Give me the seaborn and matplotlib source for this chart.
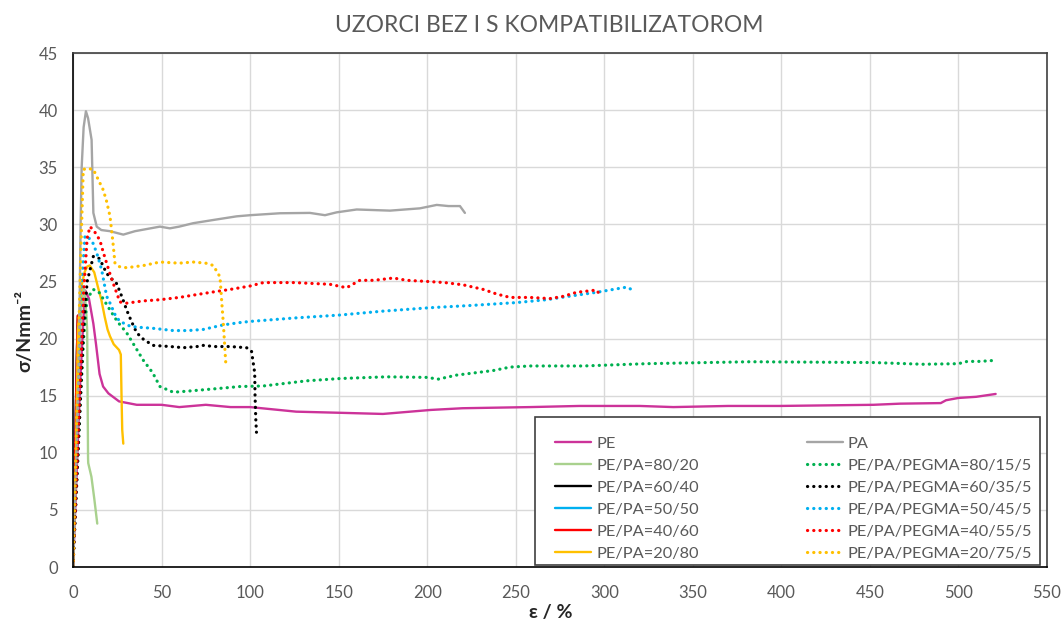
import matplotlib
matplotlib.use("Agg")
import matplotlib.pyplot as plt
from matplotlib.patches import Rectangle
import seaborn as sns
import pandas as pd

# ---------------- data ----------------
title = "UZORCI BEZ I S KOMPATIBILIZATOROM"
x_label = "ε / %"
y_label = "σ/Nmm⁻²"

pe_x = [0, 2, 4, 6, 7, 9, 11.5, 13, 15, 17, 20, 26, 36, 50, 60, 75, 89, 100, 126, 151, 175, 202, 220, 258, 286, 320, 339, 370, 399, 452, 467, 490, 493, 500, 510, 521]
pe_y = [0, 8, 16, 22, 24.2, 23.5, 21.3, 19.5, 16.9, 15.8, 15.2, 14.5, 14.2, 14.2, 14.0, 14.2, 14.0, 14.0, 13.6, 13.5, 13.4, 13.75, 13.9, 14.0, 14.1, 14.1, 14.0, 14.1, 14.1, 14.2, 14.3, 14.35, 14.6, 14.8, 14.9, 15.15]

pa_x = [0, 2, 3.5, 4.3, 4.9, 6, 7.3, 8.5, 10.5, 11.5, 13.4, 16, 20.9, 28.4, 35, 42, 49.1, 54.7, 60, 67.9, 80, 92.4, 100, 116.9, 133.8, 142.3, 148.9, 160.2, 179, 195.9, 205.4, 212, 218.5, 221.3]
pa_y = [0, 10, 20, 30, 35, 38.5, 39.9, 39.3, 37.4, 31.0, 29.8, 29.5, 29.4, 29.1, 29.4, 29.6, 29.8, 29.65, 29.8, 30.1, 30.4, 30.7, 30.8, 30.97, 31.0, 30.8, 31.05, 31.3, 31.2, 31.4, 31.7, 31.6, 31.6, 31.0]

b8020_x = [0, 1.5, 3, 4.5, 5.6, 6.5, 7.6, 8.0, 8.5, 8.6, 10.4, 12, 13.7]
b8020_y = [0, 8, 16, 22, 24.4, 24.2, 22, 20.7, 9.5, 9.1, 7.9, 6, 3.8]

b6040_x = [0, 0.6, 1.2, 1.8, 2.4, 2.8]
b6040_y = [0, 5, 10, 15, 20, 22]

b5050_x = [0, 0.7, 1.4, 2.1, 2.6]
b5050_y = [0, 6, 12, 18, 21]

b4060_x = [0, 0.7, 1.4, 2.1, 2.7]
b4060_y = [0, 6, 12, 18, 22]

b2080_x = [0, 1.5, 2.8, 4.7, 6.5, 8, 9.4, 12, 14.1, 16, 17.9, 19.5, 20.9, 23, 26, 27, 27.4, 27.8, 28.4]
b2080_y = [0, 8, 20.7, 24.5, 25.8, 26.3, 26.4, 25.8, 24.5, 23.4, 21.9, 20.8, 20.2, 19.5, 19.0, 18.6, 15, 12, 10.8]

c80_x = [0, 2, 4, 6, 8, 11.5, 15, 20.9, 25, 30.3, 35, 39.7, 45, 49.1, 56.6, 65, 80, 94.3, 107.5, 132, 150.8, 177, 199.7, 206.3, 216.6, 237.3, 246.8, 258, 288.1, 323.9, 382.3, 451.9, 480, 500, 505, 512, 521.6]
c80_y = [0, 7, 14, 20, 23.5, 24.3, 24.0, 22.5, 21.5, 20.5, 19.3, 18.1, 17.0, 15.8, 15.3, 15.4, 15.6, 15.8, 15.85, 16.3, 16.5, 16.65, 16.6, 16.45, 16.8, 17.2, 17.5, 17.6, 17.6, 17.8, 17.97, 17.9, 17.75, 17.8, 18.0, 18.0, 18.1]

c60_x = [0, 2, 4, 6, 8, 11.5, 15, 19, 22, 24.7, 28, 30.3, 33, 36, 40, 45.3, 55, 62.3, 70, 73.6, 80, 88.7, 98, 100.8, 102.6, 102.8, 103.2, 103.6]
c60_y = [0, 7, 14, 21, 25, 27.2, 27.0, 25.7, 25.2, 24.8, 23.5, 22.5, 21.5, 20.5, 19.9, 19.4, 19.3, 19.2, 19.3, 19.4, 19.3, 19.3, 19.2, 18.9, 17, 15, 13, 11.8]

c50_x = [0, 1.5, 3, 4.5, 6.8, 9, 11.5, 14, 16.2, 19, 20.9, 24, 26.5, 32, 36, 45, 56.6, 65, 73.6, 85, 94.3, 100, 125, 150.8, 175, 201.6, 225, 250.5, 267.4, 280, 295.7, 305, 312.6, 315.4]
c50_y = [0, 8, 16, 24, 29.0, 28.8, 28.3, 27.2, 26.0, 23.7, 23.1, 22.0, 21.5, 21.1, 21.0, 20.9, 20.7, 20.7, 20.8, 21.2, 21.4, 21.5, 21.8, 22.06, 22.4, 22.7, 22.9, 23.15, 23.4, 23.7, 24.05, 24.3, 24.5, 24.3]

c40_x = [0, 2, 4, 6, 8, 9.6, 12, 15.2, 17, 19, 21, 22.8, 26.5, 30.3, 40, 49.1, 60, 67.9, 80, 88.7, 100, 107.5, 125, 145.1, 154.5, 162, 170, 180.9, 188.4, 200, 210, 220.4, 231.7, 239.2, 246.8, 258, 269.3, 276.9, 284.4, 295.7, 297.6]
c40_y = [0, 8, 16, 24, 28.8, 29.8, 29.4, 28.6, 27.6, 26.6, 25.6, 24.8, 23.2, 23.1, 23.3, 23.4, 23.6, 23.8, 24.1, 24.3, 24.6, 24.9, 24.9, 24.75, 24.45, 25.1, 25.1, 25.3, 25.1, 25.0, 24.9, 24.7, 24.3, 23.9, 23.6, 23.6, 23.5, 23.7, 24.05, 24.25, 23.8]

c20_x = [0, 1.5, 3, 4.5, 5.8, 8, 11.5, 14, 17.1, 19, 20.9, 22.5, 23.7, 26, 30.3, 40, 49.1, 60, 67.9, 75, 79.2, 83, 84, 84.9, 86.4]
c20_y = [0, 9, 19, 28, 34.8, 34.9, 34.8, 34.0, 33.0, 32.0, 30.7, 28.5, 26.6, 26.3, 26.2, 26.4, 26.7, 26.6, 26.7, 26.6, 26.4, 25.4, 23.2, 21.3, 17.5]

solid_series = [
    ("PE", pe_x, pe_y, "#CC3399"),
    ("PE/PA=80/20", b8020_x, b8020_y, "#A9D18E"),
    ("PE/PA=60/40", b6040_x, b6040_y, "#000000"),
    ("PE/PA=50/50", b5050_x, b5050_y, "#00B0F0"),
    ("PE/PA=40/60", b4060_x, b4060_y, "#FF0000"),
    ("PE/PA=20/80", b2080_x, b2080_y, "#FFC000"),
]
dotted_series = [
    ("PA", pa_x, pa_y, "#A5A5A5", "solid"),
    ("PE/PA/PEGMA=80/15/5", c80_x, c80_y, "#00B050", "dot"),
    ("PE/PA/PEGMA=60/35/5", c60_x, c60_y, "#000000", "dot"),
    ("PE/PA/PEGMA=50/45/5", c50_x, c50_y, "#00B0F0", "dot"),
    ("PE/PA/PEGMA=40/55/5", c40_x, c40_y, "#FF0000", "dot"),
    ("PE/PA/PEGMA=20/75/5", c20_x, c20_y, "#FFC000", "dot"),
]

x_ticks = list(range(0, 551, 50))
y_ticks = list(range(0, 46, 5))

# ---------------- style ----------------
sns.set_theme(style="white")
plt.rcParams['font.family'] = ['Lato', 'DejaVu Sans']
text_gray = "#595959"

fig = plt.figure(figsize=(10.64, 6.23), dpi=100)
ax = fig.add_axes([73 / 1064, 1 - 567 / 623, 974 / 1064, 514 / 623])

DOT = (0, (0.05, 1.9))

def draw(label, xs, ys, color, style):
    df = pd.DataFrame({"x": xs, "y": ys})
    if style == "dot":
        sns.lineplot(data=df, x="x", y="y", ax=ax, sort=False, estimator=None,
                     color=color, linewidth=2.3, linestyle=DOT,
                     dash_capstyle="round", label=label)
    else:
        sns.lineplot(data=df, x="x", y="y", ax=ax, sort=False, estimator=None,
                     color=color, linewidth=1.7, label=label)

for label, xs, ys, color in solid_series:
    draw(label, xs, ys, color, "solid")
for label, xs, ys, color, style in dotted_series:
    draw(label, xs, ys, color, style)

ax.set_xlim(0, 550)
ax.set_ylim(0, 45)
ax.set_xticks(x_ticks)
ax.set_yticks(y_ticks)
ax.grid(True, color="#D9D9D9", linewidth=1)
ax.set_axisbelow(True)
for s in ax.spines.values():
    s.set_color("#404040")
    s.set_linewidth(1.2)
ax.spines['left'].set_color("#000000")
ax.spines['bottom'].set_color("#000000")
ax.tick_params(axis='both', labelsize=12, colors=text_gray, length=0)
ax.tick_params(axis='y', pad=11)
ax.tick_params(axis='x', pad=13)

ax.set_xlabel(x_label, fontsize=14, fontweight='bold', color="#262626")
ax.xaxis.label.set_va('center')
ax.xaxis.set_label_coords(0.49, -0.088)
ax.set_ylabel(y_label, fontsize=14, fontweight='bold', color="#262626")
ax.yaxis.set_label_coords(-0.041, 0.46)
fig.text(0.516, 1 - 26 / 623, title, ha='center', va='center', fontsize=16.5,
         color=text_gray)

# legend box (frame) and legend entries
box = Rectangle((0.4743, 0.0039), 0.5185, 0.288, transform=ax.transAxes,
                facecolor="white", edgecolor="#404040", linewidth=1.2, zorder=4.5)
ax.add_patch(box)

handles, labels = ax.get_legend_handles_labels()
leg = ax.legend(handles, labels, ncol=2, loc='lower left',
                bbox_to_anchor=(0.4949, 0.012, 0.4897, 0.267), mode='expand',
                fontsize=11.8, frameon=False, handlelength=2.2,
                labelspacing=0.46, borderpad=0, handletextpad=0.3,
                columnspacing=1.0, borderaxespad=0)
leg.set_zorder(6)
for t in leg.get_texts():
    t.set_color(text_gray)

fig.savefig("out.png", dpi=100)
